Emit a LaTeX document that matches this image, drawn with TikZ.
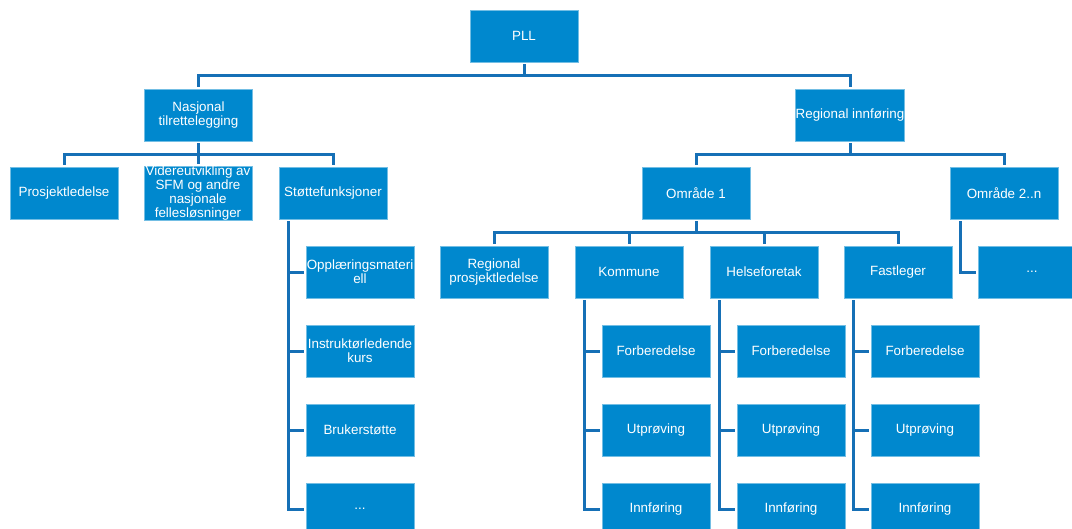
\documentclass[tikz,border=0pt]{standalone}
\usepackage{fontspec}
\setmainfont{Liberation Sans}
\definecolor{boxblue}{RGB}{0,136,206}
\definecolor{lineblue}{RGB}{22,112,182}
\begin{document}
\begin{tikzpicture}[x=1pt,y=-1pt,
 box/.style={rectangle, fill=boxblue, draw=boxblue!55!white, line width=0.5pt,
   minimum width=108pt, minimum height=52pt, inner sep=0pt, outer sep=2pt,
   text=white, align=center, font=\fontsize{13.4}{14}\selectfont},
 conn/.style={draw=lineblue, line width=3pt}]
\useasboundingbox (0,0) rectangle (1072,528);
% level 0/1
\node[box] (pll) at (524,36) {PLL};
\node[box] (nat) at (198.5,115) {Nasjonal\\tilrettelegging};
\node[box] (reg) at (850,115) {Regional innføring};
% national branch
\node[box] (prosj) at (64,193) {Prosjektledelse};
\node[box] (vid) at (198,193) {Videreutvikling av\\SFM og andre\\nasjonale\\fellesløsninger};
\node[box] (stotte) at (333,193) {Støttefunksjoner};
\node[box] (st1) at (360,272) {Opplæringsmateri\\ell};
\node[box] (st2) at (360,351) {Instruktørledende\\kurs};
\node[box] (st3) at (360,430) {Brukerstøtte};
\node[box] (st4) at (360,509) {...};
% regional branch
\node[box] (om1) at (696,193) {Område 1};
\node[box] (om2) at (1004,193) {Område 2..n};
\node[box] (rp) at (494,272) {Regional\\prosjektledelse};
\node[box] (kom) at (629,272) {Kommune};
\node[box] (hel) at (764,272) {Helseforetak};
\node[box] (fast) at (898,272) {Fastleger};
\node[box] (om2a) at (1032,272) {...};
\node[box] (k1) at (656,351) {Forberedelse};
\node[box] (k2) at (656,430) {Utprøving};
\node[box] (k3) at (656,509) {Innføring};
\node[box] (h1) at (791,351) {Forberedelse};
\node[box] (h2) at (791,430) {Utprøving};
\node[box] (h3) at (791,509) {Innføring};
\node[box] (f1) at (925,351) {Forberedelse};
\node[box] (f2) at (925,430) {Utprøving};
\node[box] (f3) at (925,509) {Innføring};
% connectors
\draw[conn] (pll.south) -- ++(0,11.5) -| (nat.north);
\draw[conn] (pll.south) -- ++(0,11.5) -| (reg.north);
\foreach \c in {prosj,vid,stotte}
  \draw[conn] (nat.south) -- ++(0,11) -| (\c.north);
\foreach \c in {om1,om2}
  \draw[conn] (reg.south) -- ++(0,11) -| (\c.north);
\foreach \c in {rp,kom,hel,fast}
  \draw[conn] (om1.south) -- ++(0,11.5) -| (\c.north);
\foreach \c in {st1,st2,st3,st4}
  \draw[conn] ([xshift=11pt]stotte.south west) |- (\c.west);
\foreach \c in {k1,k2,k3}
  \draw[conn] ([xshift=11pt]kom.south west) |- (\c.west);
\foreach \c in {h1,h2,h3}
  \draw[conn] ([xshift=11pt]hel.south west) |- (\c.west);
\foreach \c in {f1,f2,f3}
  \draw[conn] ([xshift=11pt]fast.south west) |- (\c.west);
\draw[conn] ([xshift=12pt]om2.south west) |- (om2a.west);
\end{tikzpicture}
\end{document}
